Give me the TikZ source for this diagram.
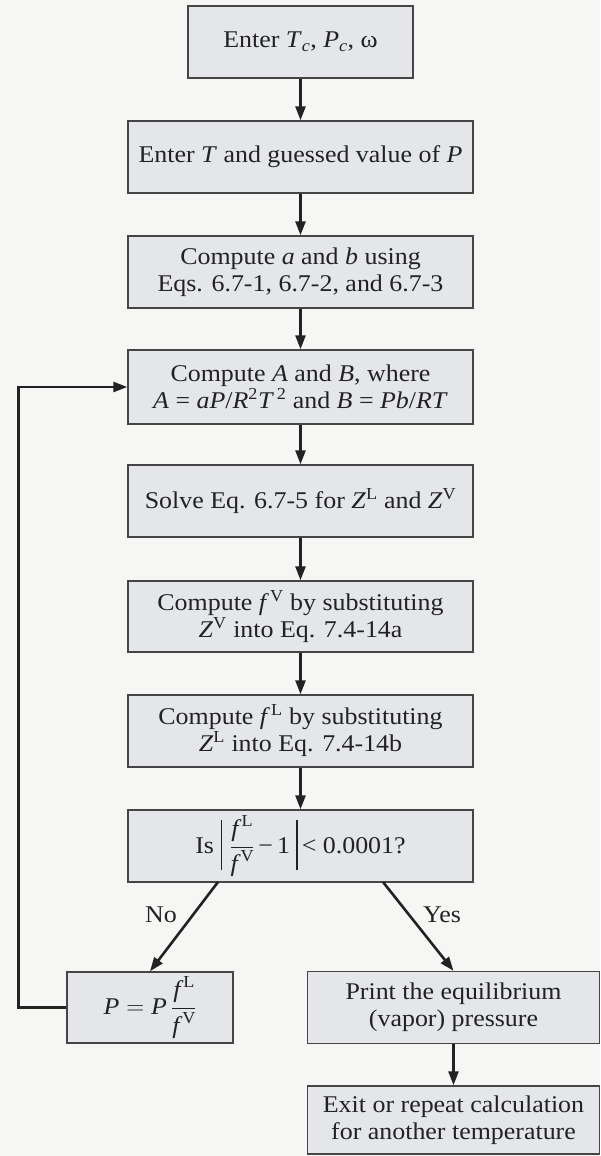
\documentclass[tikz,border=0pt]{standalone}
\usepackage{amsmath}
\usepackage{fontspec}
\setmainfont{Liberation Serif}[FakeStretch=1.08]
\usetikzlibrary{arrows.meta,calc}
\definecolor{bg}{HTML}{F6F6F5}
\definecolor{boxfill}{HTML}{E4E6EA}
\definecolor{ink}{HTML}{222222}
\definecolor{edge}{HTML}{454545}
\newcommand{\absbar}{\rule[-17pt]{1.8pt}{50pt}}
\tikzset{
  box/.style={draw=edge, line width=1.4pt, fill=boxfill, text=ink, align=center,
    inner sep=0pt, font=\fontsize{24}{27}\selectfont},
  arr/.style={draw=ink, line width=2.6pt, -{Triangle[length=14pt,width=10pt]}},
  lbl/.style={text=ink, font=\fontsize{24}{27}\selectfont},
}
\begin{document}
\begin{tikzpicture}[x=1pt,y=-1pt]
\useasboundingbox (0,0) rectangle (600,1156);
\fill[bg] (0,0) rectangle (600,1156);

\node[box, minimum width=225pt, minimum height=72pt] (b1) at (300.5,42)
  {Enter \textit{T}\textsubscript{\textit{c}}, \textit{P}\textsubscript{\textit{c}}, ω};
\node[box, minimum width=345pt, minimum height=72pt] (b2) at (300.5,157)
  {Enter \textit{T} and guessed value of \textit{P}};
\node[box, minimum width=345pt, minimum height=72pt] (b3) at (300.5,272)
  {Compute \textit{a} and \textit{b} using\\Eqs. 6.7-1, 6.7-2, and 6.7-3};
\node[box, minimum width=345pt, minimum height=74pt] (b4) at (300.5,387)
  {Compute \textit{A} and \textit{B}, where\\\textit{A} = \textit{aP}/\textit{R}\textsuperscript{2}\textit{T}\textsuperscript{\,2} and \textit{B} = \textit{Pb}/\textit{RT}};
\node[box, minimum width=345pt, minimum height=72pt] (b5) at (300.5,501)
  {Solve Eq. 6.7-5 for \textit{Z}\textsuperscript{L} and \textit{Z}\textsuperscript{V}};
\node[box, minimum width=345pt, minimum height=71pt] (b6) at (300.5,616.5)
  {Compute \textit{f}\kern1pt\textsuperscript{V} by substituting\\\textit{Z}\textsuperscript{V} into Eq. 7.4-14a};
\node[box, minimum width=345pt, minimum height=72pt] (b7) at (300.5,731)
  {Compute \textit{f}\kern1pt\textsuperscript{L} by substituting\\\textit{Z}\textsuperscript{L} into Eq. 7.4-14b};
\node[box, minimum width=345pt, minimum height=72pt] (b8) at (300.5,846)
  {Is \absbar\hspace{7pt}$\dfrac{\textit{f}^{\,\mathrm{L}}}{\textit{f}^{\,\mathrm{V}}}$\,−\,1\hspace{6pt}\absbar\hspace{4pt}< 0.0001?};
\node[box, minimum width=166pt, minimum height=71pt] (b9) at (150,1007.5)
  {$\textit{P} = \textit{P}\,\dfrac{\textit{f}^{\,\mathrm{L}}}{\textit{f}^{\,\mathrm{V}}}$};
\node[box, minimum width=292pt, minimum height=72pt] (b10) at (453.5,1007.5)
  {Print the equilibrium\\(vapor) pressure};
\node[box, minimum width=292pt, minimum height=68pt] (b11) at (453.5,1120)
  {Exit or repeat calculation\\for another temperature};

\draw[arr] (b1) -- (b2);
\draw[arr] (b2) -- (b3);
\draw[arr] (b3) -- (b4);
\draw[arr] (b4) -- (b5);
\draw[arr] (b5) -- (b6);
\draw[arr] (b6) -- (b7);
\draw[arr] (b7) -- (b8);

\coordinate (nostart) at (218,882);
\coordinate (yesstart) at (383,882);
\draw[arr] (nostart) -- (b9.north);
\draw[arr] (yesstart) -- (b10.north);
\draw[arr] (b10) -- (b11);
\draw[arr] (b9.west) -- ++(-48,0) |- (b4.west);

\node[lbl] (no) at (161,915) {No};
\node[lbl] (yes) at (442,915) {Yes};
\end{tikzpicture}
\end{document}
